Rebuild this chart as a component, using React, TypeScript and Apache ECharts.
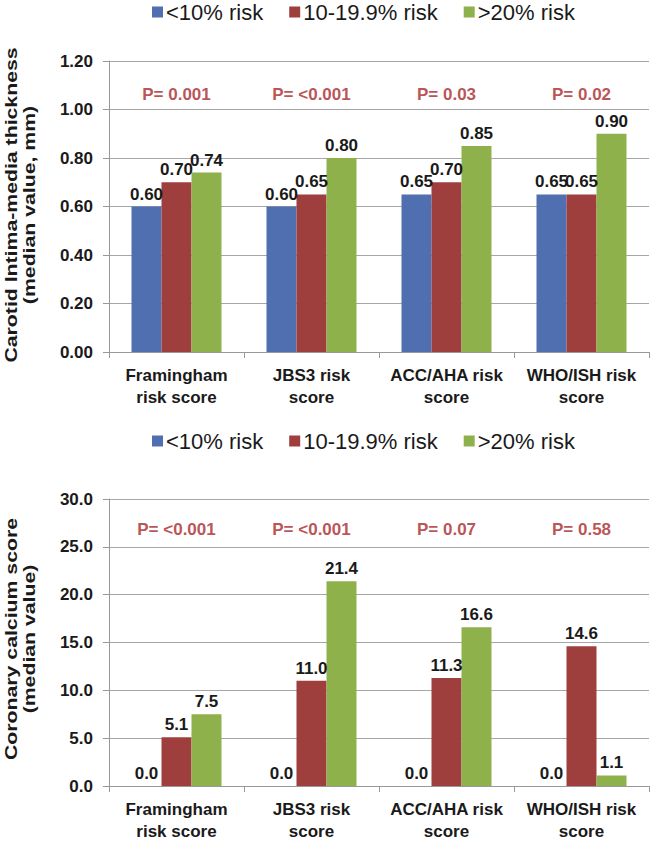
import React, { useEffect, useRef } from "react";
import * as echarts from "echarts";

const categories = ["Framingham\nrisk score", "JBS3 risk\nscore", "ACC/AHA risk\nscore", "WHO/ISH risk\nscore"];
const seriesNames = ["<10% risk", "10-19.9% risk", ">20% risk"];
const colors = ["#4F6FB0", "#9E3F3D", "#8FB14C"];

const cimtLow = [0.6, 0.6, 0.65, 0.65];
const cimtMid = [0.7, 0.65, 0.7, 0.65];
const cimtHigh = [0.74, 0.8, 0.85, 0.9];
const cimtP = ["P= 0.001", "P= <0.001", "P= 0.03", "P= 0.02"];
const cimtTitle = "Carotid Intima-media thickness\n(median value, mm)";

const cacLow = [0.0, 0.0, 0.0, 0.0];
const cacMid = [5.1, 11.0, 11.3, 14.6];
const cacHigh = [7.5, 21.4, 16.6, 1.1];
const cacP = ["P= <0.001", "P= <0.001", "P= 0.07", "P= 0.58"];
const cacTitle = "Coronary calcium score\n(median value)";

const topYTicks = { min: 0, max: 1.2, interval: 0.2, pRow: 1.06 };
const botYTicks = { min: 0, max: 30, interval: 5, pRow: 26.8 };

const FONT = "'Liberation Sans', Arial, sans-serif";

export default function App() {
  const ref = useRef<HTMLDivElement>(null);
  useEffect(() => {
    if (!ref.current) return;
    const chart = echarts.init(ref.current, null, { renderer: "svg" });
    const gridDefs = [
      { left: 109, top: 61, width: 540, height: 291 },
      { left: 109, top: 499, width: 540, height: 291 },
    ];
    const mkX = (i: number) => ({
      type: "category",
      gridIndex: i,
      data: categories,
      axisLine: { lineStyle: { color: "#999", width: 1 } },
      axisTick: { show: true, length: 6, interval: 0, lineStyle: { color: "#999" } },
      axisLabel: {
        interval: 0,
        margin: 12,
        color: "#1a1a1a",
        fontFamily: FONT,
        fontWeight: "bold",
        fontSize: 17,
        lineHeight: 22,
      },
    });
    const mkY = (i: number, t: any, dec: number) => ({
      type: "value",
      gridIndex: i,
      min: t.min,
      max: t.max,
      interval: t.interval,
      axisLine: { show: true, lineStyle: { color: "#999", width: 1 } },
      axisTick: { show: true, length: 6, lineStyle: { color: "#999" } },
      axisLabel: {
        margin: 16,
        color: "#1a1a1a",
        fontFamily: FONT,
        fontWeight: "bold",
        fontSize: 17,
        formatter: (v: number) => v.toFixed(dec),
      },
      splitLine: { show: true, lineStyle: { color: "#a6a6a6", width: 1 } },
    });
    const mkBars = (i: number, arrs: number[][], dec: number) =>
      arrs.map((arr, k) => ({
        type: "bar",
        name: seriesNames[k],
        xAxisIndex: i,
        yAxisIndex: i,
        data: arr,
        barWidth: 30,
        barGap: "0%",
        itemStyle: { color: colors[k] },
        label: {
          show: true,
          position: "top",
          distance: 4,
          color: "#1a1a1a",
          fontFamily: FONT,
          fontWeight: "bold",
          fontSize: 17,
          formatter: (p: any) => Number(p.value).toFixed(dec),
        },
      }));
    const mkP = (i: number, texts: string[], row: number) => ({
      type: "scatter",
      xAxisIndex: i,
      yAxisIndex: i,
      symbolSize: 0,
      silent: true,
      data: texts.map((_, j) => [j, row]),
      label: {
        show: true,
        position: "inside",
        color: "#A8262A",
        fontFamily: FONT,
        fontWeight: "bold",
        fontSize: 17,
        formatter: (p: any) => texts[p.dataIndex],
      },
    });
    const mkLegend = (top: number) => ({
      data: seriesNames,
      left: 152,
      top,
      padding: 0,
      itemWidth: 11,
      itemHeight: 11,
      itemGap: 26,
      icon: "rect",
      textStyle: { fontFamily: FONT, fontSize: 22, color: "#1a1a1a", padding: [0, 0, 0, -2] },
    });
    const mkName = (text: string, x: number, y: number) => ({
      type: "text",
      x,
      y,
      rotation: Math.PI / 2,
      scaleX: 1.25,
      style: {
        text,
        x: 0,
        y: 0,
        align: "center",
        verticalAlign: "middle",
        fontFamily: FONT,
        fontWeight: "bold",
        fontSize: 17,
        lineHeight: 18,
        fill: "#1a1a1a",
      },
    });
    chart.setOption({
      animation: false,
      backgroundColor: "#ffffff",
      legend: [mkLegend(1), mkLegend(430)],
      grid: gridDefs,
      xAxis: [mkX(0), mkX(1)],
      yAxis: [mkY(0, topYTicks, 2), mkY(1, botYTicks, 1)],
      graphic: [mkName(cimtTitle, 20, 205), mkName(cacTitle, 20, 639)],
      series: [
        ...mkBars(0, [cimtLow, cimtMid, cimtHigh], 2),
        mkP(0, cimtP, topYTicks.pRow),
        ...mkBars(1, [cacLow, cacMid, cacHigh], 1),
        mkP(1, cacP, botYTicks.pRow),
      ],
    });
    return () => chart.dispose();
  }, []);
  return (
    <div
      ref={ref}
      style={{ position: "fixed", left: 0, top: 0, width: 653, height: 842, background: "#fff" }}
    />
  );
}
